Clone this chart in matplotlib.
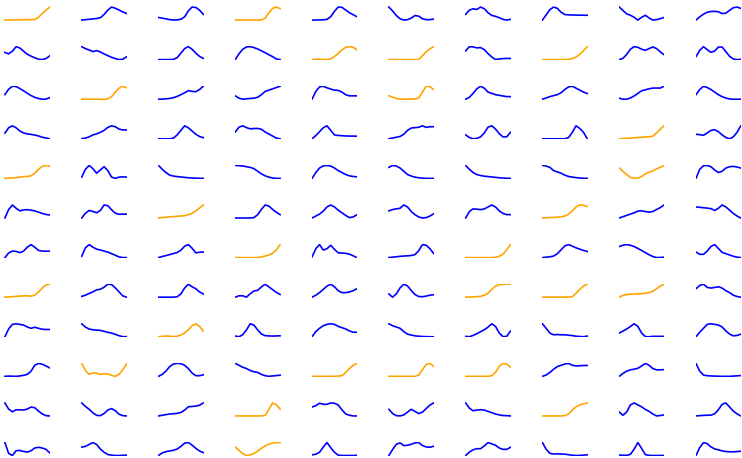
"""
Grid of 12 x 10 small sparklines, no axes; rising-type series in orange.
"""
import matplotlib
matplotlib.use("Agg")
import matplotlib.pyplot as plt

# each row: 10 series of 13 samples (0 = low, 10 = high)
row_01 = [
    [0, 0.05, 0.1, 0.15, 0.2, 0.25, 0.3, 0.35, 0.4, 2.2, 5, 7.5, 10],
    [0, 0.3, 0.6, 0.9, 1.2, 1.8, 4.3, 7.7, 10, 9.1, 7.7, 6.3, 5.1],
    [2, 1.5, 1, 0.4, 0.1, 0.2, 0.7, 2.5, 7, 9.8, 9.5, 7.5, 4.3],
    [0, 0, 0, 0, 0, 0, 0, 0.1, 1.5, 5.5, 9, 10, 8.8],
    [0, 0, 0.1, 0.2, 0.5, 2.5, 6.5, 9.7, 9.5, 7.5, 5.5, 4, 2.5],
    [10, 7, 3.5, 1, 0, 0.3, 1.5, 3.5, 3, 1, 0.3, 0.3, 0.8],
    [4.3, 7.5, 8.5, 8, 9.8, 8.5, 5.5, 3.5, 2.8, 1.8, 0.5, 0, 0.5],
    [0, 4, 8, 10, 9, 6, 4.2, 4, 3.9, 3.8, 3.8, 3.7, 3.7],
    [10, 7.5, 5, 4, 2.5, 0.5, 2.5, 4, 2, 0.5, 0.8, 1.5, 2.4],
    [0, 2.5, 4.5, 6, 6.6, 6.7, 6.4, 5, 5.3, 7.5, 9.5, 10, 9],
]
row_02 = [
    [5.7, 4.6, 6.6, 10, 9, 6.6, 4.3, 2.9, 1.7, 0.6, 0.3, 1.1, 3.1],
    [10, 8.5, 7.5, 6.3, 7, 6, 4.5, 3.2, 2, 1, 0.2, 0.5, 2.3],
    [0, 0, 0, 0, 0.2, 1.5, 5, 8.5, 10, 8, 5, 2.5, 1],
    [0, 4.5, 8, 9.8, 10, 9.3, 8.2, 6.8, 5.3, 3.8, 2.3, 0.5, 0],
    [0.2, 0.5, 0.5, 0.3, 0.2, 0.8, 2.5, 5, 7.5, 9.5, 10, 9.5, 7.5],
    [0, 0, 0, 0, 0, 0, 0, 0, 0.1, 3, 6, 8.3, 10],
    [6.5, 9.7, 9.5, 8.8, 9, 7.5, 4.5, 2, 0, 0.5, 0.8, 0.9, 0.9],
    [0, 0, 0, 0, 0, 0, 0, 0.2, 0.8, 2, 4, 6.8, 10],
    [0, 1, 4, 8, 10, 9.5, 8, 7.2, 8.5, 9.8, 8.5, 6, 3.8],
    [2.3, 7, 9.8, 7.5, 5.5, 6.5, 9.5, 9.5, 6, 2.5, 0.5, 0, 0.2],
]
row_03 = [
    [3.5, 7.5, 9.7, 9.5, 8, 6.3, 4.5, 2.8, 1.5, 0.6, 0.1, 0.2, 1.2],
    [0, 0, 0, 0, 0, 0, 0, 0.3, 2, 5.5, 8.5, 10, 8.8],
    [0, 0.1, 0.3, 0.6, 1.2, 2.2, 3.5, 5, 6.6, 6, 5.8, 7.5, 10],
    [2.6, 0.8, 0, 0.3, 0.6, 0.8, 1.5, 3.5, 6, 7, 8, 9, 10],
    [0, 6, 9.5, 10, 8.8, 7.8, 7, 6.8, 5.5, 3.5, 2.6, 2.6, 2.6],
    [2.6, 1.5, 0.6, 0.2, 0, 0, 0.1, 0.2, 0.8, 5.5, 9.8, 9.5, 7.3],
    [0, 1.5, 4.5, 8, 10, 8.5, 5.5, 4.5, 3.5, 3, 2.5, 2, 2],
    [0, 1, 2, 2.8, 3.5, 5, 7.5, 9.5, 10, 8.5, 7, 5.5, 4.4],
    [0.8, 0, 0, 1, 2.5, 4.5, 6.5, 7.3, 8, 8.6, 8.6, 8.6, 10],
    [3.5, 7.5, 10, 9, 7.5, 5.5, 3.5, 2, 0.9, 0.2, 0, 0, 0],
]
row_04 = [
    [4.4, 8.5, 10, 8.5, 6, 4.5, 3.8, 3.4, 2.9, 2.2, 1.2, 0.6, 0],
    [0, 0.6, 1.5, 3, 3.8, 5, 6.5, 8.8, 10, 9.3, 7.5, 6.8, 6.8],
    [0, 0, 0, 0, 0.5, 3, 6.5, 10, 8.5, 6, 3.5, 1.8, 0.9],
    [5, 8.5, 9.5, 8.2, 7.3, 7.5, 7.6, 7, 5, 3.5, 2, 0.5, 0],
    [0, 2.5, 5.5, 8.5, 10, 6.5, 3, 2.6, 2.4, 2.2, 2.1, 2.1, 2],
    [0, 0.6, 1.2, 1.8, 3.5, 6.5, 8.3, 8.6, 8.9, 10, 8.8, 9.3, 9.3],
    [3, 1, 0, 0.3, 1.5, 4.5, 9, 10, 7.5, 4, 1.5, 1.5, 5],
    [0, 0, 0, 0, 0, 0, 0, 1, 5, 10, 8, 5, 0],
    [0, 0.2, 0.4, 0.6, 0.8, 1, 1.2, 1.4, 1.6, 2, 4.5, 7.5, 10],
    [3.5, 3.2, 2.7, 4.5, 6.5, 7, 5.5, 3, 1, 0, 1.5, 5, 10],
]
row_05 = [
    [0, 0.2, 0.4, 0.6, 1, 1.4, 1.5, 2, 4, 7, 9.3, 10, 9.5],
    [1, 7, 10, 7.5, 4, 6.5, 9, 6, 1, 0, 1, 1.2, 1],
    [10, 7, 4.5, 2.5, 1.8, 1.4, 1.1, 0.8, 0.5, 0.3, 0.2, 0.1, 0],
    [10, 9.8, 9.6, 9, 8.5, 7.5, 5.5, 3.5, 2, 1, 0.3, 0, 0],
    [0, 4.5, 8, 9.6, 10, 9.5, 8, 6, 4.5, 3, 2, 1.5, 1.2],
    [8.5, 10, 9.5, 8, 5.5, 3, 1.8, 1, 0.5, 0.2, 0, 0, 0],
    [10, 7, 4.5, 3, 2.2, 1.7, 1.4, 1.1, 0.8, 0.5, 0.3, 0.1, 0],
    [10, 9.5, 8.5, 6, 5, 4, 2.5, 1.5, 1, 0.6, 0.3, 0.1, 0],
    [8, 5.5, 3, 0.8, 0, 0.2, 1.5, 3.5, 4.8, 5.8, 7.3, 8.5, 10],
    [0, 7, 9.7, 10, 9, 6.5, 4.5, 5.5, 8, 9, 9.3, 8.7, 8],
]
row_06 = [
    [0, 6.5, 10, 7.5, 5.5, 6.2, 6.4, 6, 5.5, 4.5, 3.5, 2.7, 2.3],
    [0, 3.5, 5.5, 4.8, 3.8, 5.5, 9.5, 9, 6, 3.5, 2.7, 2.8, 2.8],
    [0, 0.3, 0.6, 0.9, 1.1, 1.3, 1.5, 1.8, 2.6, 3.6, 5.5, 7.7, 10],
    [0, 0, 0, 0, 0, 0.3, 2.5, 6.5, 9.8, 9, 6.5, 4.3, 2.5],
    [0, 1.5, 3, 5.3, 8.5, 10, 8.5, 6, 4, 2, 0.3, 0.8, 2.5],
    [5.5, 6.5, 7, 7.5, 10, 8.5, 5, 2.5, 0.8, 0, 0.3, 1.5, 3.2],
    [0, 5, 7, 6.8, 6.4, 7, 8.5, 10, 8.5, 5.5, 3.5, 2.6, 2.6],
    [0, 0.2, 0.3, 0.4, 0.6, 1, 1.5, 3, 5.5, 8.5, 10, 9.8, 8.8],
    [0, 1, 2, 3, 4, 5.3, 5.5, 5, 4.5, 5, 6.5, 8, 10],
    [8.5, 8.2, 7.9, 7.6, 7.2, 5.8, 7.5, 10, 8.5, 6, 3.5, 1.5, 0],
]
row_07 = [
    [0, 3.5, 5, 4.8, 3.8, 5, 8, 10, 8, 5.5, 5, 4.9, 5],
    [1, 7.5, 10, 8, 6.5, 5.8, 5, 4.2, 3, 1.8, 0.5, 0, 0],
    [0, 0.8, 1.5, 2.2, 3, 3.8, 5.5, 8.5, 9.7, 7, 3.5, 4, 4.1],
    [0, 0, 0, 0, 0, 0, 0, 0.5, 1.2, 2, 3.3, 6, 10],
    [1, 7, 10, 6, 7, 9.5, 6.5, 4, 3.8, 3.6, 3, 1.8, 0.5],
    [0, 0.3, 0.6, 0.9, 1.1, 1.3, 1.5, 2.2, 5, 9.5, 9, 6.5, 3],
    [0, 0, 0, 0, 0, 0, 0, 0, 0.3, 1, 2.5, 6, 10],
    [0, 0.3, 0.6, 1.2, 3, 6, 9, 10, 8.8, 7.5, 6.5, 5.5, 4.7],
    [8.5, 9.5, 10, 9.5, 8.5, 7, 5.5, 3.8, 2.2, 0.8, 0, 0.1, 0.3],
    [4.3, 2.5, 2.5, 5, 8.5, 10, 7, 4, 3, 2, 1, 0.3, 0],
]
row_08 = [
    [0, 0.2, 0.4, 0.6, 0.8, 1, 1.1, 0.8, 1.5, 4, 7, 9.5, 10],
    [0.6, 1.5, 2.8, 4, 5.5, 6, 7.5, 9.8, 9.5, 7, 4, 1, 0],
    [0, 0, 0, 0, 0, 0.3, 2.5, 7, 10, 8, 6.5, 4, 2.5],
    [0.5, 1.5, 1.5, 0.5, 3, 5, 5.5, 8, 10, 8, 6, 4, 2.5],
    [0, 1.5, 3.5, 6, 8.5, 10, 8, 5, 3.5, 3.5, 4, 5, 6.5],
    [2.4, 0, 2.5, 7, 9.8, 8.5, 5, 2, 0.5, 0.3, 0.8, 1.5, 1.8],
    [0, 0.1, 0.2, 0.4, 0.6, 1.5, 3, 6, 8.5, 9.5, 10, 10, 10],
    [0, 0, 0, 0, 0, 0, 0, 0, 0.3, 3, 6, 8.5, 10],
    [0, 1.3, 2, 2.3, 2.4, 2.6, 2.7, 3, 3.5, 4.5, 6.5, 8.5, 10],
    [6.5, 9, 10, 7.5, 7, 7.5, 8, 7, 5, 3.5, 1.5, 0.5, 0],
]
row_09 = [
    [0, 6, 9.5, 10, 9.5, 9, 7.5, 6.5, 7.3, 6.5, 5.8, 5.6, 5.6],
    [10, 7.5, 6, 5.5, 5.2, 5, 4.3, 3.5, 3, 2, 1, 0.2, 0.3],
    [0.2, 0.5, 0.8, 0.6, 0.3, 0.6, 1.5, 3, 5.5, 8.5, 10, 8, 4.5],
    [0.5, 0, 1.5, 5, 9.5, 8.5, 5, 2, 0.8, 0.6, 0.5, 0.6, 0.7],
    [0, 4, 6.5, 8.5, 9.5, 10, 9.5, 8, 7, 6, 4.5, 3.5, 3.5],
    [10, 8.5, 7.5, 6.5, 4, 2, 1.3, 0.7, 0.4, 0.2, 0.1, 0, 0],
    [0.5, 0.2, 1.2, 2.5, 4, 5.5, 7.5, 10, 8, 3, 0.3, 0.5, 4.5],
    [10, 6.5, 2.8, 1.5, 1.7, 1.5, 1.5, 1.2, 0.9, 0.4, 0.2, 0, 0.5],
    [3, 4.5, 6, 8, 10, 8, 3, 0.3, 0.2, 0.5, 0.5, 0.5, 0.5],
    [0, 3.5, 6.5, 9.5, 10, 9.5, 9, 7.5, 4.5, 2, 0.7, 1, 2],
]
row_10 = [
    [0, 0.2, 0.1, 0, 0.3, 0.8, 1.5, 4, 8.5, 10, 9.3, 8, 6.5],
    [10, 4.5, 1.5, 2.7, 2.3, 1.5, 2, 1.8, 0.8, 0, 1.5, 5, 9.5],
    [0, 1.5, 4, 7.5, 9.5, 10, 9.8, 8.5, 6, 2.5, 0.5, 0.5, 1.2],
    [10, 8.5, 7, 6, 4.5, 3.5, 3, 1.5, 0.5, 0, 0.3, 0.6, 0.9],
    [0, 0, 0, 0, 0, 0, 0.1, 0.2, 0.5, 3, 6, 8.5, 10],
    [0, 0, 0, 0, 0, 0, 0, 0, 1, 5, 9, 9.8, 7.5],
    [0, 0, 0, 0, 0, 0, 0, 0.5, 3, 7.5, 9.8, 9.3, 7],
    [0, 1, 3, 5.5, 7.5, 8.5, 9.5, 10, 8.5, 8, 8.2, 8.3, 8.4],
    [0, 2.2, 4, 5, 5.5, 6.2, 8, 10, 8.5, 6, 5, 5, 5.2],
    [10, 4, 1, 0.5, 0.3, 0.2, 0.1, 0, 0, 0, 0.2, 0.4, 0.6],
]
row_11 = [
    [10, 5.5, 3.5, 5, 5, 4.8, 5.5, 7, 6.5, 4, 2, 0.7, 0.5],
    [9.5, 7, 5, 2.5, 0.7, 0.5, 2, 4.5, 5.5, 4, 1.5, 0.5, 0.3],
    [0, 0.5, 1, 1.5, 1.7, 2, 2.7, 4.5, 7, 7.3, 7.6, 8.2, 10],
    [0, 0, 0, 0, 0, 0, 0, 0, 0.5, 5, 10, 8.5, 5.3],
    [6.5, 7.5, 9.3, 8.5, 8.5, 9.5, 9.3, 8, 4.5, 1.5, 0.5, 0, 0],
    [5.5, 2.5, 1, 0.8, 1.5, 3.5, 5.5, 4, 2.5, 3.5, 6, 8.5, 10],
    [10, 6, 4, 4.5, 4.8, 4.5, 3.5, 2.5, 1.5, 0.8, 0.3, 0.2, 0],
    [0, 0, 0, 0, 0, 0, 0.2, 1.5, 4.5, 7, 8.5, 9.3, 10],
    [3, 0.5, 3, 8.5, 10, 8.5, 7, 5, 3.5, 1.5, 0, 0.3, 0.8],
    [0, 0.2, 0.4, 0.5, 0.6, 1.5, 4.5, 8.5, 9.5, 6.5, 3.5, 1.5, 0],
]
row_12 = [
    [10, 2, 0.5, 4, 4.2, 3.5, 3, 4, 6, 6.5, 6, 5, 2.5],
    [6.5, 7, 8.5, 10, 8.5, 5, 2.5, 0.8, 0.3, 0, 0, 0.2, 0.3],
    [0, 2, 3, 3.5, 4, 5, 7, 9.5, 10, 8, 5.5, 3.5, 2.2],
    [6.5, 4, 1.5, 0, 0.5, 1.5, 3.5, 5.5, 7.5, 8.8, 9.6, 10, 10],
    [0.5, 1, 2.5, 6.5, 10, 6, 2.5, 0.3, 0, 0, 0, 0, 0.2],
    [0, 4.5, 8.5, 9.5, 7.5, 7.7, 8.5, 9.5, 9.8, 7.5, 6.5, 6.2, 7],
    [0, 2.5, 4.2, 5, 5, 7, 9.5, 8.5, 7.5, 5.5, 4.5, 4.5, 6],
    [10, 5, 2, 1.5, 1.7, 1.5, 1.4, 1, 0.6, 0.4, 0.5, 0.7, 0.9],
    [0.5, 0.3, 0.2, 1, 5, 10, 5.5, 0.8, 0.2, 0.1, 0.1, 0.1, 0.2],
    [0, 6, 9.8, 9, 6.5, 5, 4.3, 3.5, 3, 2.8, 2.8, 3, 3.2],
]
rows = [row_01, row_02, row_03, row_04, row_05, row_06,
        row_07, row_08, row_09, row_10, row_11, row_12]

# (row, col) of the orange sparklines, 0-based
orange_cells = {
    (0, 0), (0, 3),
    (1, 4), (1, 5), (1, 7),
    (2, 1), (2, 5),
    (3, 8),
    (4, 0), (4, 8),
    (5, 2), (5, 7),
    (6, 3), (6, 6),
    (7, 0), (7, 6), (7, 7), (7, 8),
    (8, 2),
    (9, 1), (9, 4), (9, 5), (9, 6),
    (10, 3), (10, 7),
    (11, 3),
}

fig, axes = plt.subplots(12, 10, figsize=(7.42, 4.58), dpi=100)
fig.subplots_adjust(left=0.006, right=0.999, top=0.986, bottom=0.004,
                    wspace=0.68, hspace=1.77)

for r, row in enumerate(rows):
    for c, vals in enumerate(row):
        ax = axes[r, c]
        color = "orange" if (r, c) in orange_cells else "blue"
        ax.plot(range(len(vals)), vals, color=color, lw=1.2)
        ax.margins(x=0.01, y=0.05)
        ax.axis("off")

fig.savefig("out.png", dpi=100)
